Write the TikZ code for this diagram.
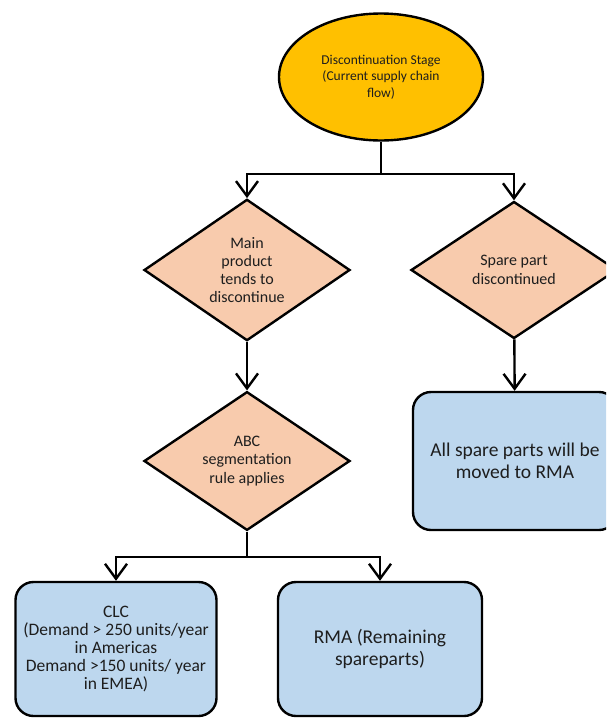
\documentclass[tikz,border=0pt]{standalone}
\usepackage{fontspec}
\setmainfont{Carlito}
\usetikzlibrary{shapes.geometric,arrows.meta}
\definecolor{stagegold}{RGB}{255,192,0}
\definecolor{decisionpeach}{RGB}{248,203,173}
\definecolor{outcomeblue}{RGB}{189,215,238}
\definecolor{inktext}{RGB}{30,30,30}
\tikzset{
  x=1pt, y=1pt,
  outline/.style={draw=black, line width=2.4pt},
  stageoval/.style={outline, ellipse, fill=stagegold, minimum width=204pt, minimum height=127pt,
    inner sep=0pt, align=center, text=inktext, font=\fontsize{13.5}{16.5}\selectfont},
  decision/.style={outline, diamond, fill=decisionpeach, minimum width=206pt, minimum height=137pt,
    inner sep=0pt, align=center, text=inktext, font=\fontsize{16}{18.3}\selectfont},
  outcome/.style={outline, rectangle, rounded corners=18pt, fill=outcomeblue, inner sep=0pt,
    align=center, text=inktext},
  trunk/.style={draw=black, line width=2.4pt},
  flow/.style={trunk, -{Straight Barb[length=15pt,width=22pt,line width=2.4pt]}},
}
\begin{document}
\begin{tikzpicture}
\clip (0,0) rectangle (606,-718);

% start of the flow
\node[stageoval] (stage) at (381,-77) {Discontinuation Stage\\(Current supply chain\\flow)};

% decisions
\node[decision] (mainprod) at (247,-270) {Main\\product\\tends to\\discontinue};
\node[decision] (spare) at (514,-270) {Spare part\\discontinued};
\node[decision] (abc) at (247,-461) {ABC\\segmentation\\rule applies};

% outcomes
\node[outcome, minimum width=204pt, minimum height=138pt,
      font=\fontsize{19.5}{21.7}\selectfont] (allrma) at (515,-461)
      {All spare parts will be\\moved to RMA};
\node[outcome, minimum width=201pt, minimum height=134pt,
      font=\fontsize{17.5}{18}\selectfont] (clc) at (116,-649)
      {CLC\\(Demand > 250 units/year\\in Americas\\Demand >150 units/ year\\in EMEA)};
\node[outcome, minimum width=204pt, minimum height=134pt,
      font=\fontsize{19.5}{21.7}\selectfont] (rma) at (380,-649)
      {RMA (Remaining\\spareparts)};

% branch points
\coordinate (split1) at (381,-174);
\coordinate (split2) at (247,-557);

% connectors
\draw[trunk] (stage) -- (split1);
\draw[flow] (split1) -| (mainprod);
\draw[flow] (split1) -| (spare);
\draw[flow] (mainprod) -- (abc);
\draw[flow] (spare) -- (allrma);
\draw[trunk] (abc) -- (split2);
\draw[flow] (split2) -| (clc);
\draw[flow] (split2) -| (rma);
\end{tikzpicture}
\end{document}
